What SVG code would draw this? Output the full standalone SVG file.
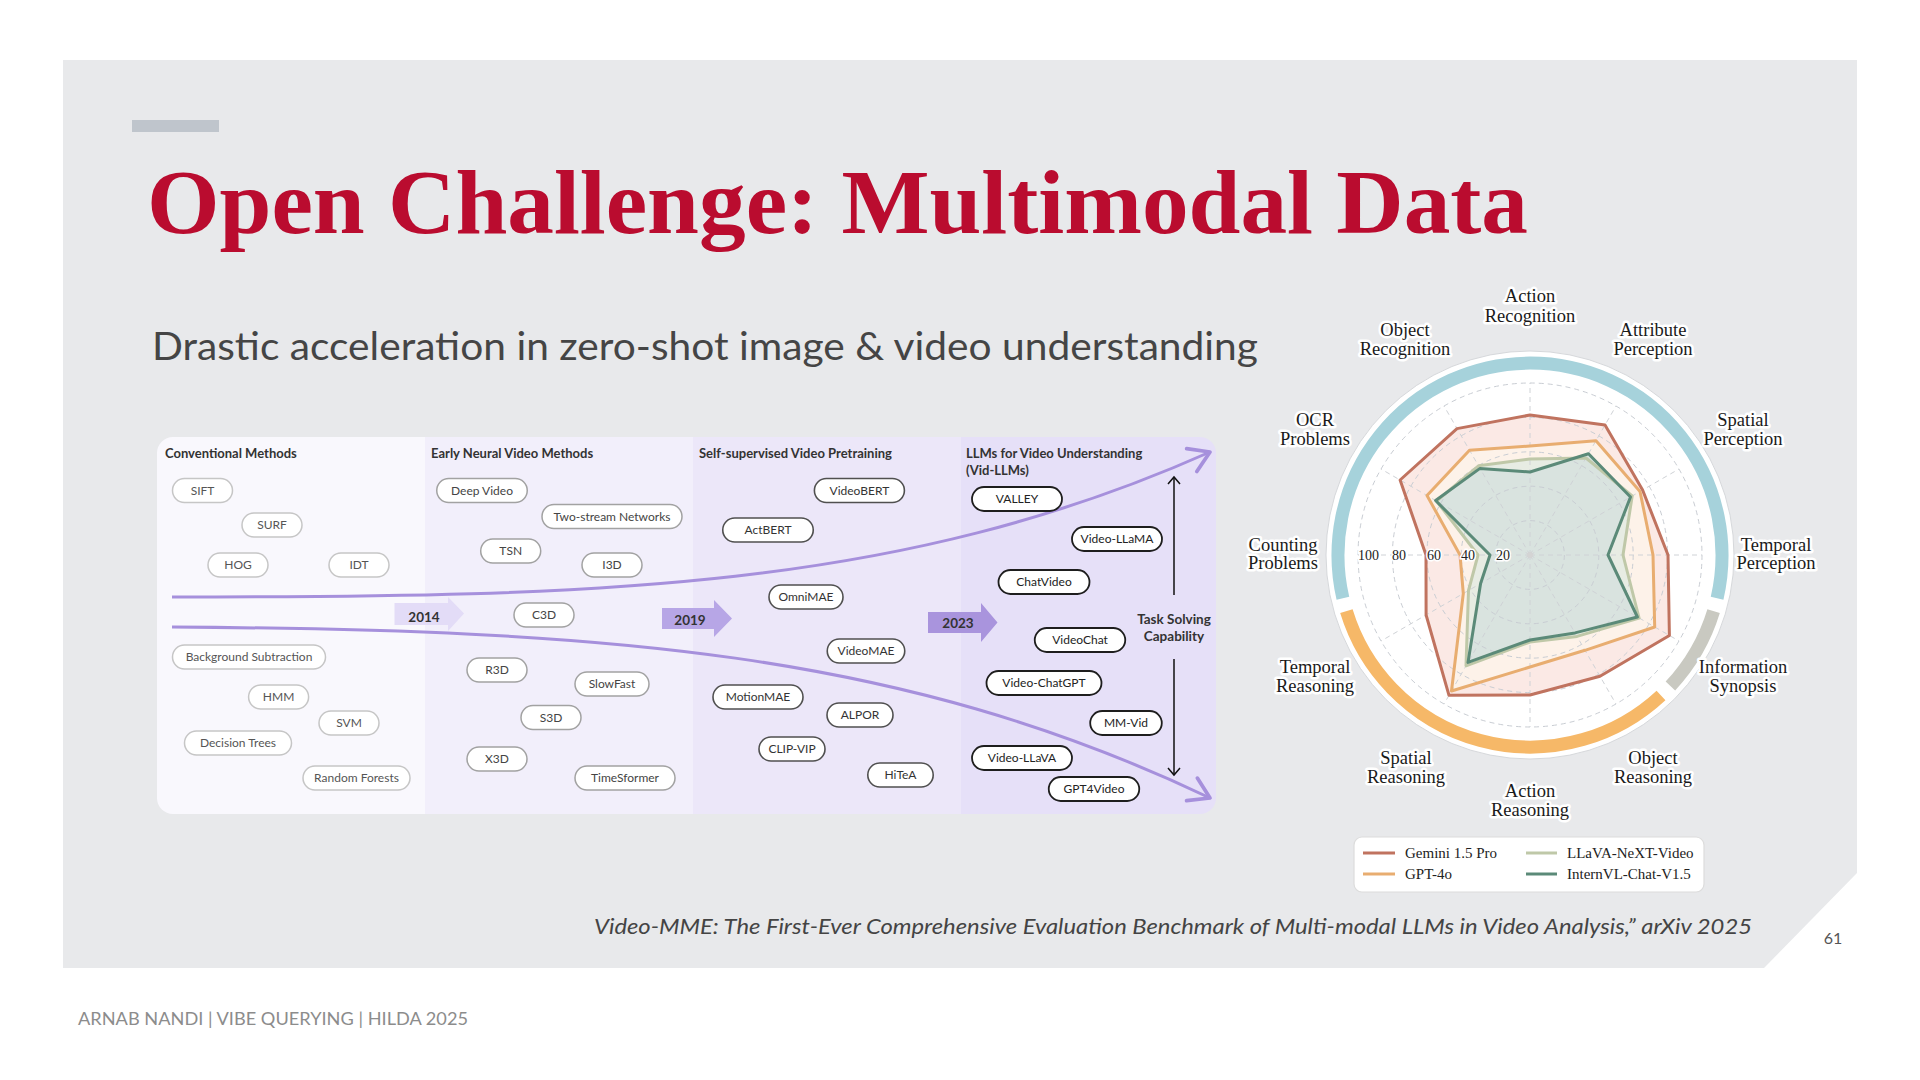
<svg xmlns="http://www.w3.org/2000/svg" width="1920" height="1080" viewBox="0 0 1920 1080">
<defs>
<style>
.hdr{font-family:Lato,"Liberation Sans",sans-serif;font-weight:700;font-size:13px;fill:#333}
.pt{font-family:Lato,"Liberation Sans",sans-serif;font-size:12px;text-anchor:middle}
.p1 rect{fill:#fff;stroke:#c6c6c6;stroke-width:1.5}
.p1 text{fill:#555}
.p2 rect{fill:#fff;stroke:#a2a2a2;stroke-width:1.5}
.p2 text{fill:#444}
.p3 rect{fill:#fff;stroke:#505050;stroke-width:1.6}
.p3 text{fill:#333}
.p4 rect{fill:#fff;stroke:#1e1e1e;stroke-width:1.8}
.p4 text{fill:#222}
.yr{font-family:Lato,"Liberation Sans",sans-serif;font-weight:700;font-size:13.5px;fill:#333;text-anchor:middle}
.curve{fill:none;stroke:#a690dc;stroke-width:3}
.tsa{fill:none;stroke:#111;stroke-width:1.5}
.rl{font-family:"Liberation Serif",serif;font-size:18.5px;fill:#1a1a1a;text-anchor:middle;stroke:#fff;stroke-width:5;stroke-linejoin:round;paint-order:stroke}
.ring{fill:none;stroke:#c9cdd3;stroke-width:1;stroke-dasharray:5 4}
.spoke{stroke:#cfd2d6;stroke-width:1;stroke-dasharray:5 4}
.tick{font-family:"Liberation Serif",serif;font-size:14px;fill:#222;stroke:#fff;stroke-width:3;paint-order:stroke}
.lg{font-family:"Liberation Serif",serif;font-size:15px;fill:#222}
.ln{fill:none;stroke-width:3;stroke-linejoin:round}
</style>
<clipPath id="panelclip"><rect x="157" y="437" width="1059" height="377" rx="16"/></clipPath>
<marker id="chev" markerUnits="userSpaceOnUse" markerWidth="30" markerHeight="30" refX="0" refY="0" viewBox="-20 -12 24 24" orient="auto">
<path d="M-16,-10 L0,0 L-16,10" fill="none" stroke="#a690dc" stroke-width="3" stroke-linecap="round" stroke-linejoin="round"/>
</marker>
<marker id="blk" markerUnits="userSpaceOnUse" markerWidth="16" markerHeight="16" refX="0" refY="0" viewBox="-10 -8 12 16" orient="auto">
<path d="M-7,-6 L0,0 L-7,6" fill="none" stroke="#111" stroke-width="1.5"/>
</marker>
</defs>

<rect width="1920" height="1080" fill="#fff"/>
<polygon points="63,60 1857,60 1857,873 1764,968 63,968" fill="#e8e9eb"/>
<rect x="132" y="120" width="87" height="12" fill="#bfc5cc"/>
<text x="147" y="233" font-family="'Liberation Serif',serif" font-weight="700" font-size="92" fill="#ba0c2f" textLength="1381" lengthAdjust="spacingAndGlyphs">Open Challenge: Multimodal Data</text>
<text x="152" y="360" font-family="Lato,'Liberation Sans',sans-serif" font-size="38" fill="#454545" textLength="1106" lengthAdjust="spacingAndGlyphs">Drastic acceleration in zero-shot image &amp; video understanding</text>

<!-- Timeline panel -->
<g id="timeline-panel" clip-path="url(#panelclip)">
<rect x="157" y="437" width="268" height="377" fill="#f9f8fd"/>
<rect x="425" y="437" width="268" height="377" fill="#f2effb"/>
<rect x="693" y="437" width="268" height="377" fill="#ece7f9"/>
<rect x="961" y="437" width="255" height="377" fill="#e6e0f8"/>
</g>
<g id="headers">
<text class="hdr" x="165" y="458">Conventional Methods</text>
<text class="hdr" x="431" y="458">Early Neural Video Methods</text>
<text class="hdr" x="699" y="458">Self-supervised Video Pretraining</text>
<text class="hdr" x="966" y="458">LLMs for Video Understanding</text>
<text class="hdr" x="966" y="475">(Vid-LLMs)</text>
</g>

<g id="connectors">
<path class="curve" d="M172,597 C600,597 900,590 1210,452" marker-end="url(#chev)"/>
<path class="curve" d="M172,627 C600,630 900,650 1210,798" marker-end="url(#chev)"/>
<line class="tsa" x1="1174" y1="595" x2="1174" y2="477" marker-end="url(#blk)"/>
<line class="tsa" x1="1174" y1="659" x2="1174" y2="775" marker-end="url(#blk)"/>
</g>

<g id="year-2014"><polygon points="394.5,603 448,603 448,597 464,613.5 448,631 448,625 394.5,625" fill="#e3dcf7"/><text class="yr" x="424" y="622">2014</text></g>
<g id="year-2019"><polygon points="662,608 714,608 714,600 732,618.5 714,637 714,629 662,629" fill="#b7a6e6"/><text class="yr" x="690" y="625">2019</text></g>
<g id="year-2023"><polygon points="928,612 981,612 981,603 997.5,622.5 981,642 981,633 928,633" fill="#a994dd"/><text class="yr" x="958" y="628">2023</text></g>
<g id="task-solving"><text class="yr" x="1174" y="624">Task Solving</text><text class="yr" x="1174" y="641">Capability</text></g>

<!-- Column 1 -->
<g class="p1">
<g id="n-sift"><rect x="172.5" y="478.5" width="60" height="24" rx="12"/><text class="pt" x="202.5" y="494.5">SIFT</text></g>
<g id="n-surf"><rect x="242" y="513" width="60" height="24" rx="12"/><text class="pt" x="272" y="529">SURF</text></g>
<g id="n-hog"><rect x="208" y="553" width="60" height="24" rx="12"/><text class="pt" x="238" y="569">HOG</text></g>
<g id="n-idt"><rect x="329" y="553" width="60" height="24" rx="12"/><text class="pt" x="359" y="569">IDT</text></g>
<g id="n-bgsub"><rect x="172.5" y="645" width="153" height="24" rx="12"/><text class="pt" x="249" y="661">Background Subtraction</text></g>
<g id="n-hmm"><rect x="248.6" y="685" width="60" height="24" rx="12"/><text class="pt" x="278.6" y="701">HMM</text></g>
<g id="n-svm"><rect x="319" y="711" width="60" height="24" rx="12"/><text class="pt" x="349" y="727">SVM</text></g>
<g id="n-dtrees"><rect x="184.5" y="731" width="107" height="24" rx="12"/><text class="pt" x="238" y="747">Decision Trees</text></g>
<g id="n-rforests"><rect x="303" y="766" width="107" height="24" rx="12"/><text class="pt" x="356.5" y="782">Random Forests</text></g>
</g>
<!-- Column 2 -->
<g class="p2">
<g id="n-deepvideo"><rect x="436.75" y="478.5" width="90.5" height="24" rx="12"/><text class="pt" x="482" y="494.5">Deep Video</text></g>
<g id="n-twostream"><rect x="542" y="504.5" width="140" height="24" rx="12"/><text class="pt" x="612" y="520.5">Two-stream Networks</text></g>
<g id="n-tsn"><rect x="480.7" y="539" width="60" height="24" rx="12"/><text class="pt" x="510.7" y="555">TSN</text></g>
<g id="n-i3d"><rect x="582" y="553" width="60" height="24" rx="12"/><text class="pt" x="612" y="569">I3D</text></g>
<g id="n-c3d"><rect x="514" y="603" width="60" height="24" rx="12"/><text class="pt" x="544" y="619">C3D</text></g>
<g id="n-r3d"><rect x="467" y="658" width="60" height="24" rx="12"/><text class="pt" x="497" y="674">R3D</text></g>
<g id="n-slowfast"><rect x="575" y="672" width="74" height="24" rx="12"/><text class="pt" x="612" y="688">SlowFast</text></g>
<g id="n-s3d"><rect x="521" y="705.5" width="60" height="24" rx="12"/><text class="pt" x="551" y="721.5">S3D</text></g>
<g id="n-x3d"><rect x="467" y="747" width="60" height="24" rx="12"/><text class="pt" x="497" y="763">X3D</text></g>
<g id="n-timesformer"><rect x="575" y="766" width="100" height="24" rx="12"/><text class="pt" x="625" y="782">TimeSformer</text></g>
</g>
<!-- Column 3 -->
<g class="p3">
<g id="n-videobert"><rect x="814.4" y="478.5" width="90" height="24" rx="12"/><text class="pt" x="859.4" y="494.5">VideoBERT</text></g>
<g id="n-actbert"><rect x="722.75" y="518" width="90.5" height="24" rx="12"/><text class="pt" x="768" y="534">ActBERT</text></g>
<g id="n-omnimae"><rect x="769" y="585" width="74" height="24" rx="12"/><text class="pt" x="806" y="601">OmniMAE</text></g>
<g id="n-videomae"><rect x="827.25" y="639" width="77.5" height="24" rx="12"/><text class="pt" x="866" y="655">VideoMAE</text></g>
<g id="n-motionmae"><rect x="713" y="685" width="90" height="24" rx="12"/><text class="pt" x="758" y="701">MotionMAE</text></g>
<g id="n-alpor"><rect x="827" y="703" width="66" height="24" rx="12"/><text class="pt" x="860" y="719">ALPOR</text></g>
<g id="n-clipvip"><rect x="759" y="737" width="66" height="24" rx="12"/><text class="pt" x="792" y="753">CLIP-VIP</text></g>
<g id="n-hitea"><rect x="867.8" y="763" width="65.4" height="24" rx="12"/><text class="pt" x="900.5" y="779">HiTeA</text></g>
</g>
<!-- Column 4 -->
<g class="p4">
<g id="n-valley"><rect x="972" y="487" width="90" height="24" rx="12"/><text class="pt" x="1017" y="503">VALLEY</text></g>
<g id="n-videollama"><rect x="1072" y="527" width="90" height="24" rx="12"/><text class="pt" x="1117" y="543">Video-LLaMA</text></g>
<g id="n-chatvideo"><rect x="998.5" y="570" width="91" height="24" rx="12"/><text class="pt" x="1044" y="586">ChatVideo</text></g>
<g id="n-videochat"><rect x="1034.75" y="628" width="90.5" height="24" rx="12"/><text class="pt" x="1080" y="644">VideoChat</text></g>
<g id="n-videochatgpt"><rect x="986.5" y="671" width="115" height="24" rx="12"/><text class="pt" x="1044" y="687">Video-ChatGPT</text></g>
<g id="n-mmvid"><rect x="1090.2" y="711" width="71.6" height="24" rx="12"/><text class="pt" x="1126" y="727">MM-Vid</text></g>
<g id="n-videollava"><rect x="972" y="746" width="100" height="24" rx="12"/><text class="pt" x="1022" y="762">Video-LLaVA</text></g>
<g id="n-gpt4video"><rect x="1048.75" y="777" width="90.5" height="24" rx="12"/><text class="pt" x="1094" y="793">GPT4Video</text></g>
</g>

<!-- Radar chart -->
<g id="radar">
<circle cx="1530" cy="555" r="204" fill="#fff" stroke="#d6d8db" stroke-width="1"/>
<path d="M1717.1,598.2 A192,192 0 1 0 1342.9,598.2" fill="none" stroke="#a6d2db" stroke-width="13"/>
<path d="M1713.6,611.1 A192,192 0 0 1 1670.4,686" fill="none" stroke="#c9c9c1" stroke-width="13"/>
<path d="M1661,695.4 A192,192 0 0 1 1346.4,611.1" fill="none" stroke="#f6b868" stroke-width="13"/>
<g id="radar-fills">
<polygon points="1530,415 1605,425.1 1642.6,490 1668,555 1669.4,635.5 1600,676.2 1530,695 1449,695.3 1426.1,615 1426,555 1400.1,480 1457,428.6" fill="#fbe9e5"/>
<polygon points="1530,446 1596,440.7 1640,491.5 1653,555 1654.7,627 1585,650.3 1530,667 1451.5,691 1463.3,593.5 1460,555 1427,495.5 1469.5,450.2" fill="#fdf2e9"/>
<polygon points="1530,459 1586,458 1632.2,496 1623,555 1639.1,618 1577,636.4 1530,642 1466,665.8 1468.5,590.5 1478,555 1436.5,501 1478.5,465.8" fill="#e7ece3"/>
<polygon points="1530,472 1588.5,453.7 1630.5,497 1608,555 1637.4,617 1575,632.9 1530,640 1468,662.4 1480.6,583.5 1490,555 1435.6,500.5 1480,468.4" fill="#d9e3df"/>
</g>
<g id="radar-grid">
<circle class="ring" cx="1530" cy="555" r="34.4"/>
<circle class="ring" cx="1530" cy="555" r="68.8"/>
<circle class="ring" cx="1530" cy="555" r="103.2"/>
<circle class="ring" cx="1530" cy="555" r="137.6"/>
<circle class="ring" cx="1530" cy="555" r="172"/>
<line class="spoke" x1="1530" y1="555" x2="1530" y2="383"/>
<line class="spoke" x1="1530" y1="555" x2="1616" y2="406"/>
<line class="spoke" x1="1530" y1="555" x2="1679" y2="469"/>
<line class="spoke" x1="1530" y1="555" x2="1702" y2="555"/>
<line class="spoke" x1="1530" y1="555" x2="1679" y2="641"/>
<line class="spoke" x1="1530" y1="555" x2="1616" y2="704"/>
<line class="spoke" x1="1530" y1="555" x2="1530" y2="727"/>
<line class="spoke" x1="1530" y1="555" x2="1444" y2="704"/>
<line class="spoke" x1="1530" y1="555" x2="1381" y2="641"/>
<line class="spoke" x1="1530" y1="555" x2="1358" y2="555"/>
<line class="spoke" x1="1530" y1="555" x2="1381" y2="469"/>
<line class="spoke" x1="1530" y1="555" x2="1444" y2="406"/>
</g>
<polygon class="ln" points="1530,415 1605,425.1 1642.6,490 1668,555 1669.4,635.5 1600,676.2 1530,695 1449,695.3 1426.1,615 1426,555 1400.1,480 1457,428.6" stroke="#c0735f"/>
<polygon class="ln" points="1530,446 1596,440.7 1640,491.5 1653,555 1654.7,627 1585,650.3 1530,667 1451.5,691 1463.3,593.5 1460,555 1427,495.5 1469.5,450.2" stroke="#e8ad70"/>
<polygon class="ln" points="1530,459 1586,458 1632.2,496 1623,555 1639.1,618 1577,636.4 1530,642 1466,665.8 1468.5,590.5 1478,555 1436.5,501 1478.5,465.8" stroke="#bfc8a8"/>
<polygon class="ln" points="1530,472 1588.5,453.7 1630.5,497 1608,555 1637.4,617 1575,632.9 1530,640 1468,662.4 1480.6,583.5 1490,555 1435.6,500.5 1480,468.4" stroke="#5b8a78"/>
<circle cx="1530" cy="555" r="3" fill="#d4d4d4"/>
<text class="tick" x="1358" y="560">100</text>
<text class="tick" x="1392" y="560">80</text>
<text class="tick" x="1427" y="560">60</text>
<text class="tick" x="1461" y="560">40</text>
<text class="tick" x="1496" y="560">20</text>
<text class="rl" x="1530" y="302">Action</text><text class="rl" x="1530" y="322">Recognition</text>
<text class="rl" x="1405" y="336">Object</text><text class="rl" x="1405" y="355">Recognition</text>
<text class="rl" x="1653" y="336">Attribute</text><text class="rl" x="1653" y="355">Perception</text>
<text class="rl" x="1315" y="426">OCR</text><text class="rl" x="1315" y="445">Problems</text>
<text class="rl" x="1743" y="426">Spatial</text><text class="rl" x="1743" y="445">Perception</text>
<text class="rl" x="1283" y="551">Counting</text><text class="rl" x="1283" y="569">Problems</text>
<text class="rl" x="1776" y="551">Temporal</text><text class="rl" x="1776" y="569">Perception</text>
<text class="rl" x="1315" y="673">Temporal</text><text class="rl" x="1315" y="692">Reasoning</text>
<text class="rl" x="1743" y="673">Information</text><text class="rl" x="1743" y="692">Synopsis</text>
<text class="rl" x="1406" y="764">Spatial</text><text class="rl" x="1406" y="783">Reasoning</text>
<text class="rl" x="1653" y="764">Object</text><text class="rl" x="1653" y="783">Reasoning</text>
<text class="rl" x="1530" y="797">Action</text><text class="rl" x="1530" y="816">Reasoning</text>
</g>

<g id="legend">
<rect x="1354" y="837" width="350" height="55" rx="8" fill="#fff" stroke="#dcdcdc" stroke-width="1.2"/>
<line x1="1363" y1="853" x2="1395" y2="853" stroke="#c0735f" stroke-width="3"/>
<text class="lg" x="1405" y="858">Gemini 1.5 Pro</text>
<line x1="1363" y1="874" x2="1395" y2="874" stroke="#e8ad70" stroke-width="3"/>
<text class="lg" x="1405" y="879">GPT-4o</text>
<line x1="1526" y1="853" x2="1557" y2="853" stroke="#bfc8a8" stroke-width="3"/>
<text class="lg" x="1567" y="858">LLaVA-NeXT-Video</text>
<line x1="1526" y1="874" x2="1557" y2="874" stroke="#5b8a78" stroke-width="3"/>
<text class="lg" x="1567" y="879">InternVL-Chat-V1.5</text>
</g>

<text x="594" y="934" font-family="Lato,'Liberation Sans',sans-serif" font-style="italic" font-size="22" fill="#444" textLength="1158" lengthAdjust="spacingAndGlyphs">Video-MME: The First-Ever Comprehensive Evaluation Benchmark of Multi-modal LLMs in Video Analysis,” arXiv 2025</text>
<text x="1833" y="944" font-family="Lato,'Liberation Sans',sans-serif" font-size="16" fill="#555" text-anchor="middle">61</text>
<text x="78" y="1025" font-family="Lato,'Liberation Sans',sans-serif" font-size="17" fill="#8c8c8c" textLength="390" lengthAdjust="spacingAndGlyphs">ARNAB NANDI | VIBE QUERYING | HILDA 2025</text>
</svg>
